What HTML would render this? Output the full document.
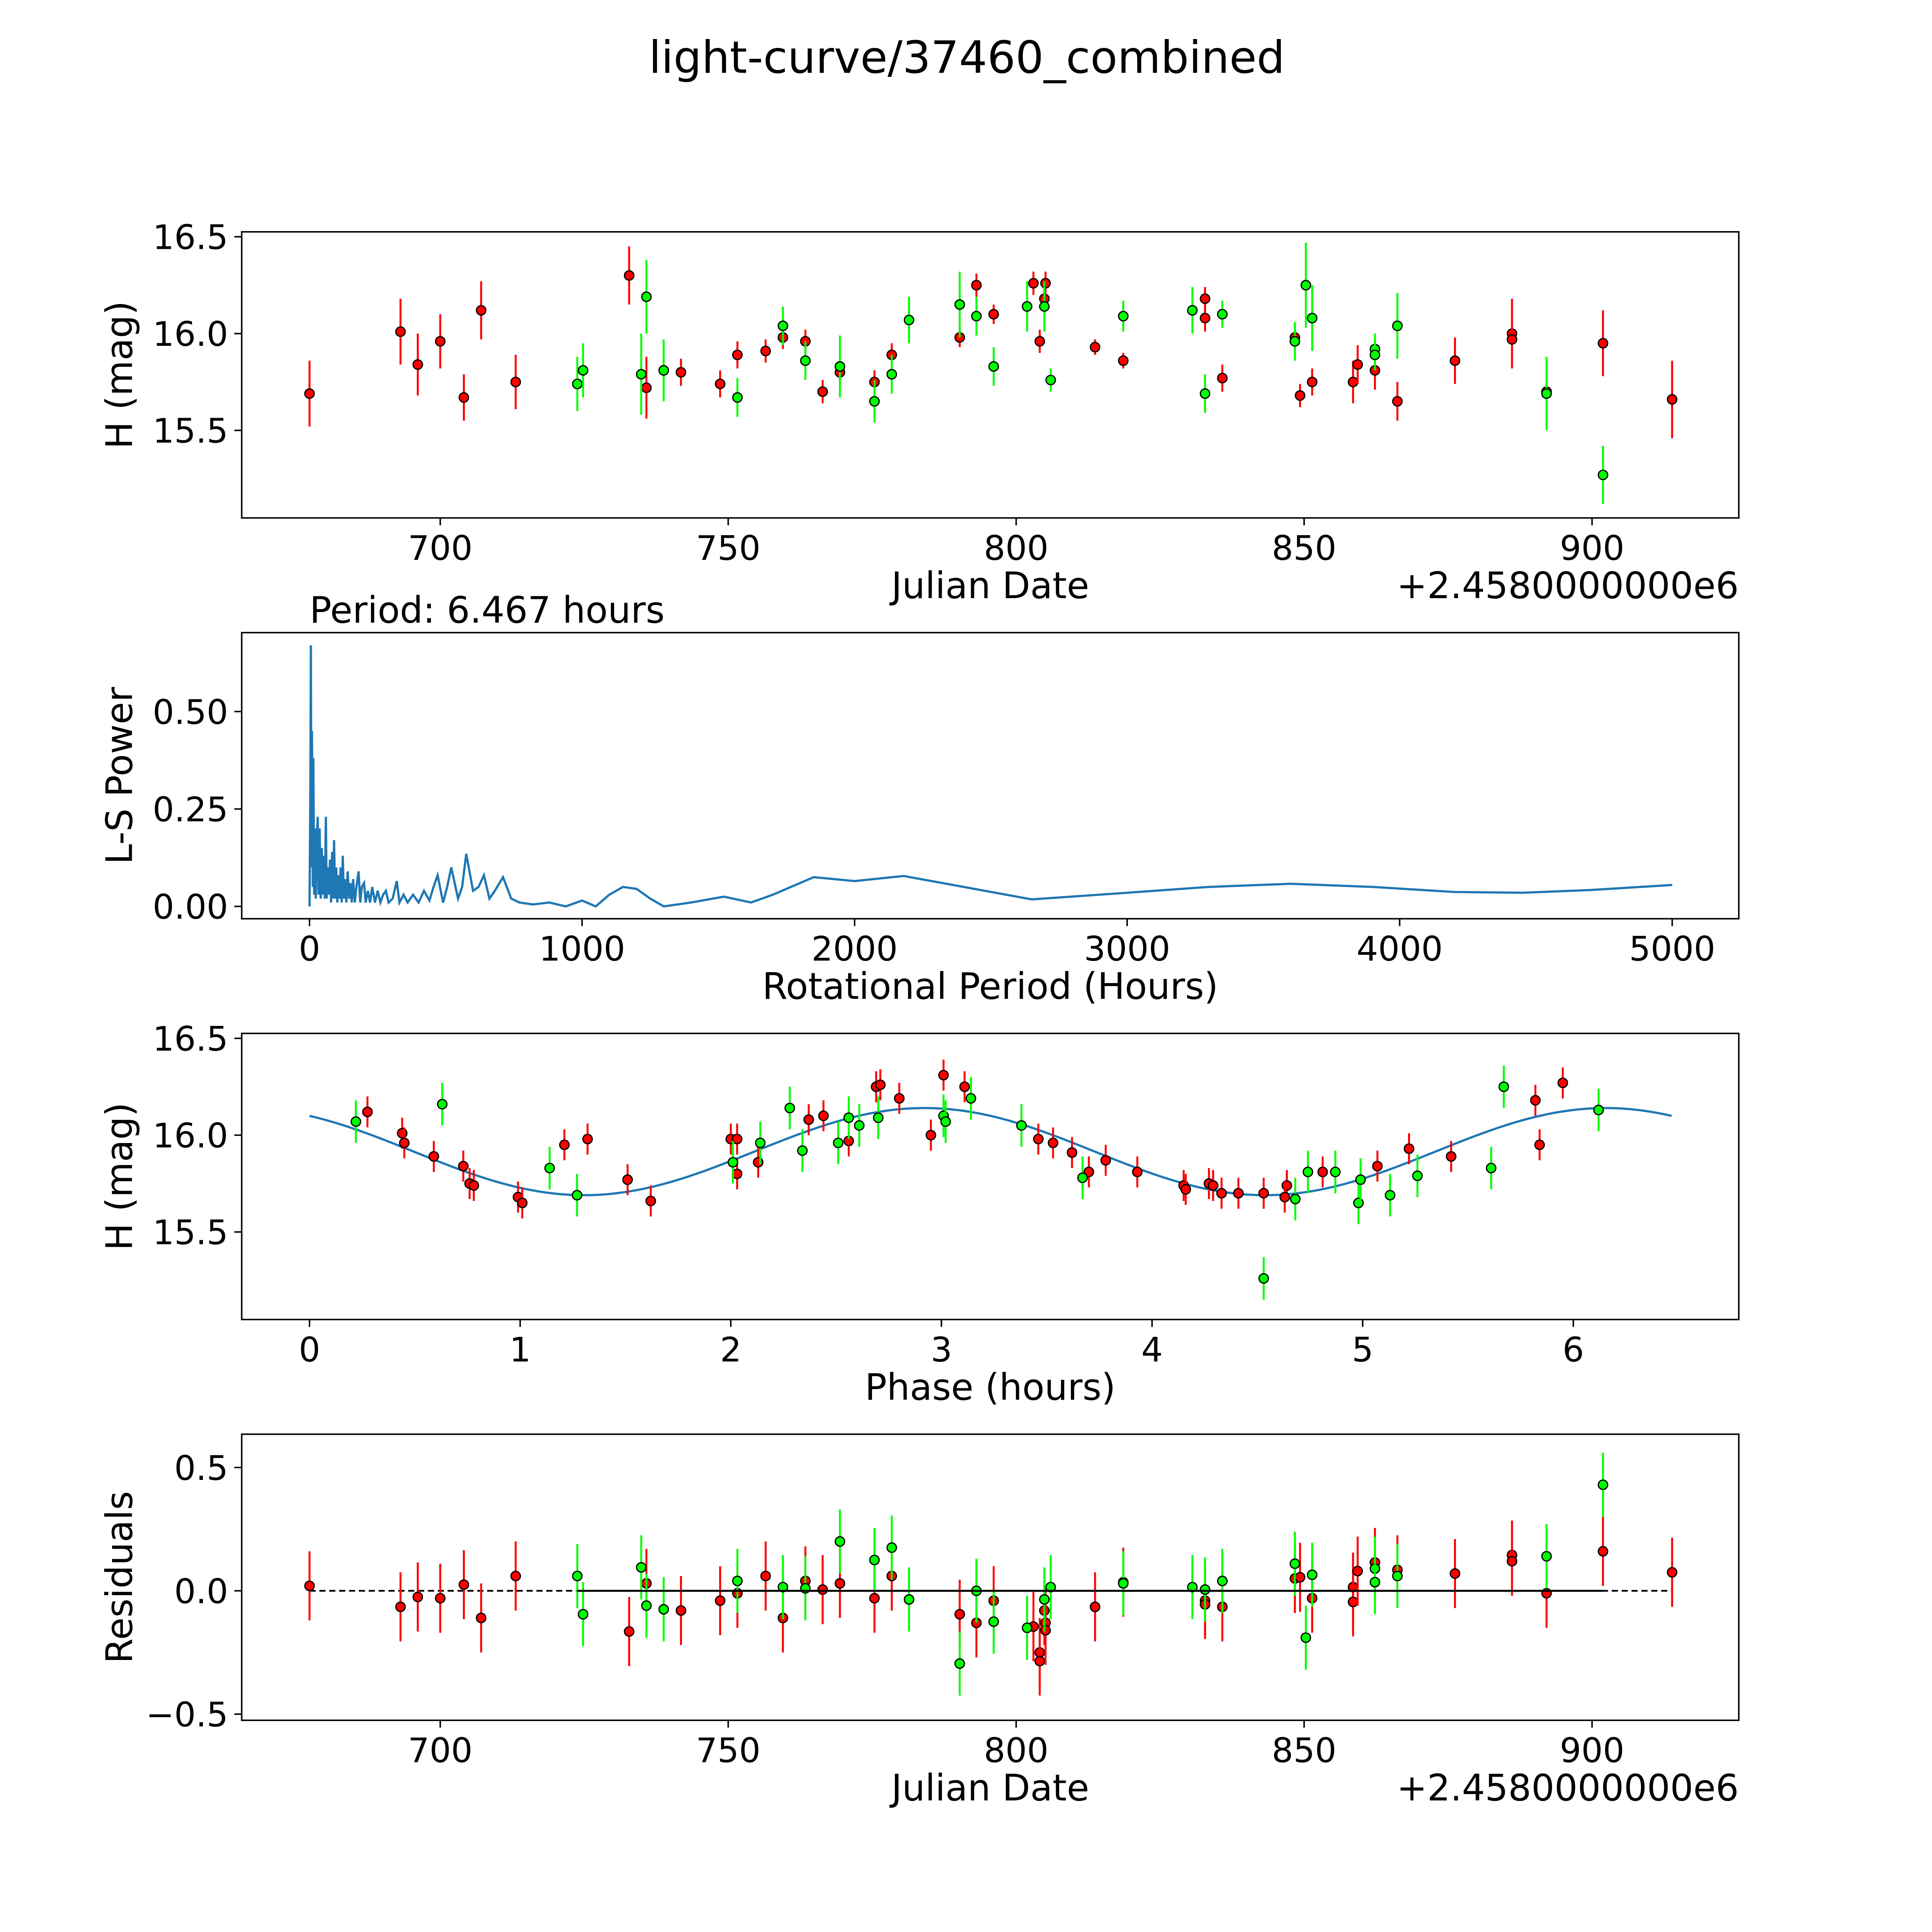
<!DOCTYPE html>
<html><head><meta charset="utf-8"><title>light-curve/37460_combined</title>
<style>html,body{margin:0;padding:0;background:#fff;overflow:hidden;width:5400px;height:5400px}svg{display:block}text{font-family:"DejaVu Sans","Liberation Sans",sans-serif;fill:#000}</style>
</head><body>
<svg id="fig" width="5400" height="5400" viewBox="0 0 1692 1692" xmlns="http://www.w3.org/2000/svg">
<rect width="1692" height="1692" fill="#fff"/>
<text x="784" y="59" font-size="36" text-anchor="middle">light-curve/37460_combined</text>
<g id="g"></g>
</svg>
<script>
// ---- Panel 1 data (Julian date offset, H mag, error) ----
const redDates=[677.3,693.1,696.1,700,704.1,707.1,713.1,732.8,735.8,741.8,748.6,751.6,756.5,759.5,763.4,766.4,769.4,775.4,778.4,790.2,793.1,796.1,803,804.1,804.9,805.1,813.7,818.6,832.8,832.8,835.8,848.4,849.3,851.4,858.5,859.3,862.3,866.2,876.2,886.1,886.1,892.1,901.9,913.9];
const redMags=[15.69,16.01,15.84,15.96,15.67,16.12,15.75,16.30,15.72,15.80,15.74,15.89,15.91,15.98,15.96,15.70,15.80,15.75,15.89,15.98,16.25,16.10,16.26,15.96,16.18,16.26,15.93,15.86,16.18,16.08,15.77,15.98,15.68,15.75,15.75,15.84,15.81,15.65,15.86,16.00,15.97,15.70,15.95,15.66];
const redErrs=[0.17,0.17,0.16,0.14,0.12,0.15,0.14,0.15,0.16,0.07,0.07,0.07,0.06,0.06,0.06,0.06,0.06,0.06,0.06,0.05,0.06,0.05,0.06,0.06,0.06,0.06,0.04,0.04,0.06,0.07,0.07,0.06,0.06,0.07,0.11,0.1,0.1,0.1,0.12,0.18,0.12,0.09,0.17,0.2];
const greenDates=[723.8,724.8,734.9,735.8,738.8,751.6,759.5,763.4,769.4,775.4,778.4,781.4,790.2,793.1,796.1,801.9,804.9,806,818.6,830.6,832.8,835.8,848.4,850.3,851.4,862.3,862.3,866.2,892.1,901.9];
const greenMags=[15.74,15.81,15.79,16.19,15.81,15.67,16.04,15.86,15.83,15.65,15.79,16.07,16.15,16.09,15.83,16.14,16.14,15.76,16.09,16.12,15.69,16.10,15.96,16.25,16.08,15.92,15.89,16.04,15.69,15.27];
const greenErrs=[0.14,0.14,0.21,0.19,0.16,0.1,0.1,0.1,0.16,0.11,0.1,0.12,0.17,0.1,0.1,0.13,0.13,0.06,0.08,0.12,0.1,0.07,0.1,0.22,0.17,0.08,0.08,0.17,0.19,0.15];
// ---- Panel 2 periodogram ----
const lsPeriods=[0,3,5,7,9,12,14,17,20,23,26,30,33,37,41,45,48,52,56,60,63,67,71,75,79,83,87,90,94,98,102,106,110,114,118,122,126,130,135,140,145,150,155,160,166,172,180,186,192,200,206,214,222,230,240,250,260,270,280,290,305,320,330,345,360,380,400,420,440,455,470,490,505,520,545,560,575,600,620,640,660,680,710,740,770,820,880,940,1000,1050,1100,1150,1200,1250,1300,1400,1520,1620,1700,1850,2000,2180,2400,2650,3000,3300,3600,3900,4200,4450,4700,5000];
const lsPowers=[0,0.3,0.67,0.1,0.45,0.05,0.38,0.03,0.2,0.02,0.16,0.23,0.03,0.2,0.02,0.15,0.03,0.13,0.02,0.23,0.02,0.1,0.03,0.12,0.01,0.14,0.02,0.17,0.02,0.1,0.01,0.08,0.02,0.1,0.01,0.13,0.02,0.07,0.01,0.09,0.02,0.06,0.01,0.07,0.01,0.05,0.09,0.01,0.05,0.06,0.01,0.04,0.01,0.05,0.01,0.04,0.01,0.03,0.04,0.01,0.02,0.065,0.01,0.03,0.01,0.03,0.01,0.04,0.015,0.05,0.08,0.01,0.05,0.1,0.02,0.05,0.135,0.04,0.05,0.08,0.02,0.04,0.075,0.02,0.01,0.005,0.01,0.0,0.015,0.0,0.03,0.05,0.045,0.02,0.0,0.01,0.025,0.01,0.03,0.075,0.065,0.078,0.05,0.018,0.035,0.05,0.058,0.05,0.037,0.035,0.042,0.055];
// ---- Panel 3 phased ----
const redPhase=[0.275,0.44,0.45,0.59,0.73,0.76,0.78,0.99,1.01,1.21,1.32,1.51,1.62,2.00,2.03,2.03,2.13,2.37,2.44,2.56,2.69,2.71,2.80,2.95,3.01,3.11,3.46,3.53,3.62,3.70,3.78,3.93,4.15,4.16,4.27,4.29,4.33,4.41,4.53,4.64,4.63,4.81,5.07,5.22,5.42,5.82,5.84,5.95];
const redPhaseMag=[16.12,16.01,15.96,15.89,15.84,15.75,15.74,15.68,15.65,15.95,15.98,15.77,15.66,15.98,15.98,15.80,15.86,16.08,16.10,15.97,16.25,16.26,16.19,16.00,16.31,16.25,15.98,15.96,15.91,15.81,15.87,15.81,15.74,15.72,15.75,15.74,15.70,15.70,15.70,15.74,15.68,15.81,15.84,15.93,15.89,16.18,15.95,16.27];
const greenPhase=[0.22,0.63,1.14,1.27,2.01,2.14,2.28,2.34,2.51,2.56,2.61,2.70,3.01,3.02,3.14,3.38,3.67,4.53,4.68,4.74,4.87,4.98,4.99,5.13,5.26,5.61,5.67,6.12];
const greenPhaseMag=[16.07,16.16,15.83,15.69,15.86,15.96,16.14,15.92,15.96,16.09,16.05,16.09,16.10,16.07,16.19,16.05,15.78,15.26,15.67,15.81,15.81,15.65,15.77,15.69,15.79,15.83,16.25,16.13];
const fitParams=[15.915,0.225,3.2335,2.92]; // mean, amplitude, half-period, phase of max
// ---- Panel 4 residuals ----
const redResDates=[677.3,693.1,696.1,700,704.1,707.1,713.1,732.8,735.8,741.8,748.6,751.6,756.5,759.5,763.4,766.4,769.4,775.4,778.4,790.2,793.1,796.1,803,804.1,804.1,804.9,805.1,805.1,813.7,818.6,832.8,832.8,835.8,848.4,849.3,851.4,858.5,858.5,859.3,862.3,866.2,876.2,886.1,886.1,892.1,901.9,913.9];
const redRes=[0.02,-0.065,-0.025,-0.03,0.025,-0.11,0.06,-0.165,0.03,-0.08,-0.04,-0.01,0.06,-0.11,0.04,0.005,0.03,-0.03,0.06,-0.095,-0.13,-0.04,-0.145,-0.25,-0.285,-0.08,-0.13,-0.16,-0.065,0.035,-0.04,-0.055,-0.065,0.05,0.055,-0.03,0.015,-0.045,0.08,0.115,0.085,0.07,0.145,0.12,-0.01,0.16,0.075];
const greenResDates=[723.8,724.8,734.9,735.8,738.8,751.6,759.5,763.4,769.4,775.4,778.4,781.4,790.2,793.1,796.1,801.9,804.9,806,818.6,830.6,832.8,835.8,848.4,850.3,851.4,862.3,862.3,866.2,892.1,901.9];
const greenRes=[0.06,-0.095,0.095,-0.06,-0.075,0.04,0.015,0.01,0.2,0.125,0.175,-0.035,-0.295,0,-0.125,-0.15,-0.035,0.015,0.03,0.015,0.005,0.04,0.11,-0.19,0.065,0.09,0.035,0.06,0.14,0.43];

const NS='http://www.w3.org/2000/svg';
const G=document.getElementById('g');
function mk(tag,attrs,parent){const e=document.createElementNS(NS,tag);for(const k in attrs)e.setAttribute(k,attrs[k]);(parent||G).appendChild(e);return e;}
function txt(s,x,y,size,anchor,parent,rot){const t=mk('text',{x:x,y:y,'font-size':size,'text-anchor':anchor||'middle'},parent);if(rot)t.setAttribute('transform','rotate(-90 '+x+' '+y+')');t.textContent=s;return t;}

function axes(name,top,xs,ys,xticks,xlabels,yticks,ylabels,xtitle,ytitle,offset){
  const g=mk('g',{});
  
  
  const L=196,R=1410,B=top+232;
  xticks.forEach((t,i)=>{const x=xs(t);mk('line',{x1:x,x2:x,y1:B,y2:B+6,stroke:'#000','stroke-width':1.2},g);const tl=txt(xlabels[i],x,B+34,27.5,'middle',g);});
  yticks.forEach((t,i)=>{const y=ys(t);mk('line',{x1:L-6,x2:L,y1:y,y2:y,stroke:'#000','stroke-width':1.2},g);const tl=txt(ylabels[i],L-11,y+10,27.5,'end',g);});
  const xt=txt(xtitle,Math.round((L+R)/2),B+65,29.5,'middle',g);
  const yt=txt(ytitle,107,top+116,29.5,'middle',g,true);
  if(offset){const o=txt(offset,R,B+65,29.5,'end',g);}
  return g;
}
function frame(top){const f=mk('rect',{x:196,y:top,width:1214,height:232,fill:'none',stroke:'#000','stroke-width':1.2});}
function points(xsArr,ysArr,errs,xs,ys,color,name){
  const g=mk('g',{});
  
  
  xsArr.forEach((d,i)=>{const x=xs(d),y=ys(ysArr[i]);const e=errs[i];
    const ln=mk('line',{x1:x,x2:x,y1:ys(ysArr[i]+e),y2:ys(ysArr[i]-e),stroke:color,'stroke-width':1.6},g);
    
    const c=mk('circle',{cx:x,cy:y,r:3.8,fill:color,stroke:'#000','stroke-width':1},g);
    });
}
const xd=d=>357+(d-700)*4.67;
const y1=m=>192+(16.5-m)*157;
axes('lightcurve-axes',188,xd,y1,[700,750,800,850,900],['700','750','800','850','900'],[15.5,16,16.5],['15.5','16.0','16.5'],'Julian Date','H (mag)','+2.4580000000e6');
points(redDates,redMags,redErrs,xd,y1,'#ff0000','red-series');
points(greenDates,greenMags,greenErrs,xd,y1,'#00ff00','green-series');
frame(188);
const x2=p=>251+p*0.221,y2=v=>735-v*316;
axes('periodogram-axes',513,x2,y2,[0,1000,2000,3000,4000,5000],['0','1000','2000','3000','4000','5000'],[0,0.25,0.5],['0.00','0.25','0.50'],'Rotational Period (Hours)','L-S Power');
const pl=mk('polyline',{points:lsPeriods.map((p,i)=>x2(p).toFixed(2)+','+y2(lsPowers[i]).toFixed(2)).join(' '),fill:'none',stroke:'#1f77b4','stroke-width':1.8});

frame(513);
const pt=txt('Period: 6.467 hours',251,505,29.5,'start');
const x3=p=>251+p*170.8,y3=m=>842+(16.5-m)*157;
axes('phase-axes',838,x3,y3,[0,1,2,3,4,5,6],['0','1','2','3','4','5','6'],[15.5,16,16.5],['15.5','16.0','16.5'],'Phase (hours)','H (mag)');
const fitPts=[];for(let i=0;i<=300;i++){const p=6.467*i/300;const m=fitParams[0]+fitParams[1]*Math.cos(2*Math.PI*(p-fitParams[3])/fitParams[2]);fitPts.push(x3(p).toFixed(2)+','+y3(m).toFixed(2));}
const fl=mk('polyline',{points:fitPts.join(' '),fill:'none',stroke:'#1f77b4','stroke-width':1.8});

points(redPhase,redPhaseMag,redPhase.map(()=>0.08),x3,y3,'#ff0000','red-phase-series');
points(greenPhase,greenPhaseMag,greenPhase.map(()=>0.11),x3,y3,'#00ff00','green-phase-series');
frame(838);
const y4=r=>1290-r*200;
axes('residuals-axes',1163,xd,y4,[700,750,800,850,900],['700','750','800','850','900'],[-0.5,0,0.5],['\u22120.5','0.0','0.5'],'Julian Date','Residuals','+2.4580000000e6');
const zl=mk('line',{x1:xd(677.3),x2:xd(913.9),y1:y4(0),y2:y4(0),stroke:'#000','stroke-width':1.4,'stroke-dasharray':'5,3'});

points(redResDates,redRes,redResDates.map(()=>0.14),xd,y4,'#ff0000','red-residuals');
points(greenResDates,greenRes,greenResDates.map(()=>0.13),xd,y4,'#00ff00','green-residuals');
const sl=mk('line',{x1:xd(723.8),x2:xd(901.9),y1:y4(0),y2:y4(0),stroke:'#000','stroke-width':1.6});

frame(1163);
</script>
</body></html>
